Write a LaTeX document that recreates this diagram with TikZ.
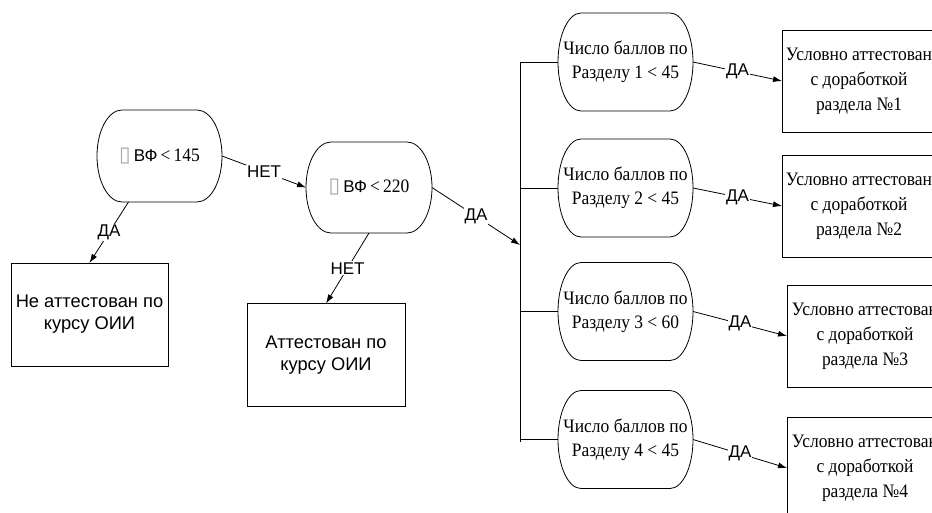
\documentclass[tikz,border=0pt]{standalone}
\usepackage{fontspec}
\setmainfont[FakeStretch=0.92]{Liberation Serif}
\newfontfamily\arialfont{Liberation Sans}
\newfontfamily\symbolfont{DejaVu Sans}
\usetikzlibrary{arrows.meta,calc}

\tikzset{
  x=1pt, y=1pt,
  every node/.style={inner sep=0pt, outer sep=0pt},
  serif/.style={font=\fontsize{19}{24}\selectfont, align=center},
  sans/.style={font=\arialfont\fontsize{18.3}{22}\selectfont, align=center},
  decision/.style={serif, minimum width=135, minimum height=98},
  outcome/.style={sans, draw, line width=0.8pt, minimum height=103},
  resultbox/.style={serif, font=\fontsize{19}{25}\selectfont, draw, line width=0.8pt,
    minimum width=154, minimum height=102},
  lbl/.style={fill=white, font=\arialfont\fontsize{17}{17}\selectfont, inner sep=1pt},
  link/.style={line width=0.8pt},
  arr/.style={link, -{Latex[length=9pt,width=6pt]}},
}

% Decision outline: flat top and bottom, half-ellipse ends
\newcommand\capsuleshape[2]{%
  \draw[link] let \p1=(#1.north west), \p2=(#1.south east) in
    (\x1+#2pt,\y1) -- (\x2-#2pt,\y1)
    arc[start angle=90, end angle=-90, x radius=#2pt, y radius={(\y1-\y2)/2}]
    -- (\x1+#2pt,\y2)
    arc[start angle=270, end angle=90, x radius=#2pt, y radius={(\y1-\y2)/2}]
    -- cycle;}

% placeholder glyph box in front of the ВФ conditions
\newcommand\missingglyph{{\symbolfont\color{gray!70}\fontsize{21}{21}\selectfont ▯}}
\newcommand\vfsum[1]{\missingglyph\,{\arialfont\fontsize{17}{17}\selectfont ВФ}\,<\,#1}

\begin{document}
\begin{tikzpicture}
\useasboundingbox (0,0) rectangle (932,-513);
\clip (0,0) rectangle (932,-513);

% first-level decisions
\node[serif, minimum width=125, minimum height=92] (A) at (159.5,-156) {\vfsum{145}};
\node[serif, minimum width=126, minimum height=91] (B) at (369,-187.5) {\vfsum{220}};
\capsuleshape{A}{25}
\capsuleshape{B}{25}

% outcomes of the first two checks
\node[outcome, minimum width=157] (C) at (89.5,-314.5) {Не аттестован по\\курсу ОИИ};
\node[outcome, minimum width=158] (D) at (326,-355)    {Аттестован по\\курсу ОИИ};

% per-section checks
\node[decision] (E1) at (625.5,-62)    {Число баллов по\\Разделу 1 < 45};
\node[decision] (E2) at (625.5,-188)   {Число баллов по\\Разделу 2 < 45};
\node[decision] (E3) at (625.5,-311.5) {Число баллов по\\Разделу 3 < 60};
\node[decision] (E4) at (625.5,-439.5) {Число баллов по\\Разделу 4 < 45};
\capsuleshape{E1}{23}
\capsuleshape{E2}{23}
\capsuleshape{E3}{23}
\capsuleshape{E4}{23}

% conditional results
\node[resultbox] (R1) at (859,-81)  {Условно аттестован\\с доработкой\\раздела №1};
\node[resultbox] (R2) at (859,-206) {Условно аттестован\\с доработкой\\раздела №2};
\node[resultbox, minimum width=156] (R3) at (865,-336) {Условно аттестован\\с доработкой\\раздела №3};
\node[resultbox, minimum width=156] (R4) at (865,-468) {Условно аттестован\\с доработкой\\раздела №4};

% bus feeding the section checks
\coordinate (busin)  at (520,-245);
\coordinate (busbot) at (520,-442);
\draw[link] (E1.west) -| (busbot);
\draw[link] (E2.west) -- (E2.west -| busbot);
\draw[link] (E3.west) -- (E3.west -| busbot);
\draw[link] (E4.west) -- (E4.west -| busbot);

% connectors
\draw[arr] ([xshift=-31]A.south) -- node[lbl]{ДА} (C.north);
\draw[arr] (A.east) -- node[lbl]{НЕТ} (B.west);
\draw[arr] (B.south) -- node[lbl]{НЕТ} (D.north);
\draw[arr] (B.east) -- node[lbl]{ДА} (busin);
\draw[arr] (E1.east) -- node[lbl]{ДА} (R1.west);
\draw[arr] (E2.east) -- node[lbl]{ДА} (R2.west);
\draw[arr] (E3.east) -- node[lbl]{ДА} (R3.west);
\draw[arr] (E4.east) -- node[lbl]{ДА} (R4.west);
\end{tikzpicture}
\end{document}
